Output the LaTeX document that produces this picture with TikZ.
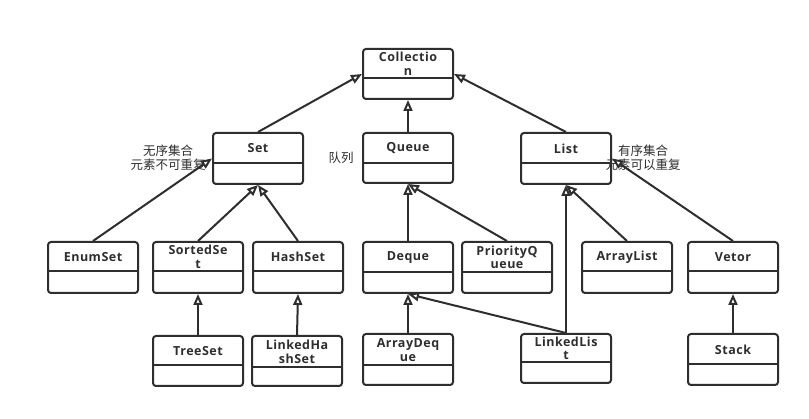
\documentclass[tikz,border=0pt]{standalone}
\usepackage{fontspec}
\usetikzlibrary{arrows.meta,calc}
\newfontfamily\cjk{Noto Sans CJK SC}
\newfontfamily\boxfont{Open Sans}[LetterSpace=4]
\definecolor{ink}{HTML}{2E2E2E}
\tikzset{
  clsbox/.style={draw=ink, line width=2pt, rounded corners=3pt, minimum width=90pt, inner sep=0pt, anchor=north west},
  clstext/.style={font=\boxfont\bfseries\fontsize{12.5}{13.5}\selectfont, align=center, text=ink, inner sep=0pt},
  divline/.style={draw=ink, line width=2pt},
  inh/.style={draw=ink, line width=2pt, -{Triangle[open, length=11pt, width=9pt, fill=white]}},
  lbl/.style={font=\cjk\fontsize{12.5}{13}\selectfont, text=ink, inner sep=0pt}
}
\newcommand\umlcls[6]{%
  \node[clsbox, minimum height=#4pt] (#1) at (#2,#3) {};
  \draw[divline] ($(#1.north west)+(0,#5)$) -- ($(#1.north east)+(0,#5)$);
  \node[clstext] (#1-t) at ($(#1.north)+(0,#5/2+1)$) {#6};
}
\begin{document}
\begin{tikzpicture}[x=1pt,y=-1pt]
\fill[white] (0,0) rectangle (809,419);
\useasboundingbox (0,0) rectangle (809,419);

% labels
\node[lbl] (l1) at (168,151) {无序集合};
\node[lbl] (l2) at (168,165) {元素不可重复};
\node[lbl] (l3) at (341,158) {队列};
\node[lbl] (l4) at (643,151) {有序集合};
\node[lbl] (l5) at (643,165) {元素可以重复};

% classes
\umlcls{Collection}{362}{48}{50}{30}{Collectio\\n}
\umlcls{Set}{212}{132}{51}{31}{Set}
\umlcls{Queue}{362}{132}{50}{31}{Queue}
\umlcls{List}{520}{132}{51}{31}{List}
\umlcls{EnumSet}{47}{241}{51}{30}{EnumSet}
\umlcls{SortedSet}{152}{241}{51}{30}{SortedSe\\t}
\umlcls{HashSet}{252}{241}{51}{30}{HashSet}
\umlcls{Deque}{362}{241}{51}{31}{Deque}
\umlcls{PriorityQueue}{461}{241}{51}{31}{PriorityQ\\ueue}
\umlcls{ArrayList}{581}{241}{51}{30}{ArrayList}
\umlcls{Vetor}{687}{241}{51}{30}{Vetor}
\umlcls{TreeSet}{152}{335}{50}{30}{TreeSet}
\umlcls{LinkedHashSet}{251}{335}{50}{32}{LinkedHa\\shSet}
\umlcls{ArrayDeque}{362}{333}{51}{32}{ArrayDeq\\ue}
\umlcls{LinkedList}{520}{333}{49}{29}{LinkedLis\\t}
\umlcls{Stack}{687}{333}{51}{31}{Stack}

% inheritance
\draw[inh] (Set.north) -- (Collection.west);
\draw[inh] (Queue.north) -- (Collection.south);
\draw[inh] (List.north) -- (Collection.east);
\draw[inh] (EnumSet.north) -- (Set.west);
\draw[inh] (SortedSet.north) -- (Set.south);
\draw[inh] (HashSet.north) -- (Set.south);
\draw[inh] (TreeSet.north) -- (SortedSet.south);
\draw[inh] (LinkedHashSet.north) -- (HashSet.south);
\draw[inh] (Deque.north) -- (Queue.south);
\draw[inh] (PriorityQueue.north) -- (Queue.south);
\draw[inh] (ArrayDeque.north) -- (Deque.south);
\draw[inh] (LinkedList.north) -- (Deque.south);
\draw[inh] (LinkedList.north) -- (List.south);
\draw[inh] (ArrayList.north) -- (List.south);
\draw[inh] (Vetor.north) -- (List.east);
\draw[inh] (Stack.north) -- (Vetor.south);
\end{tikzpicture}
\end{document}
